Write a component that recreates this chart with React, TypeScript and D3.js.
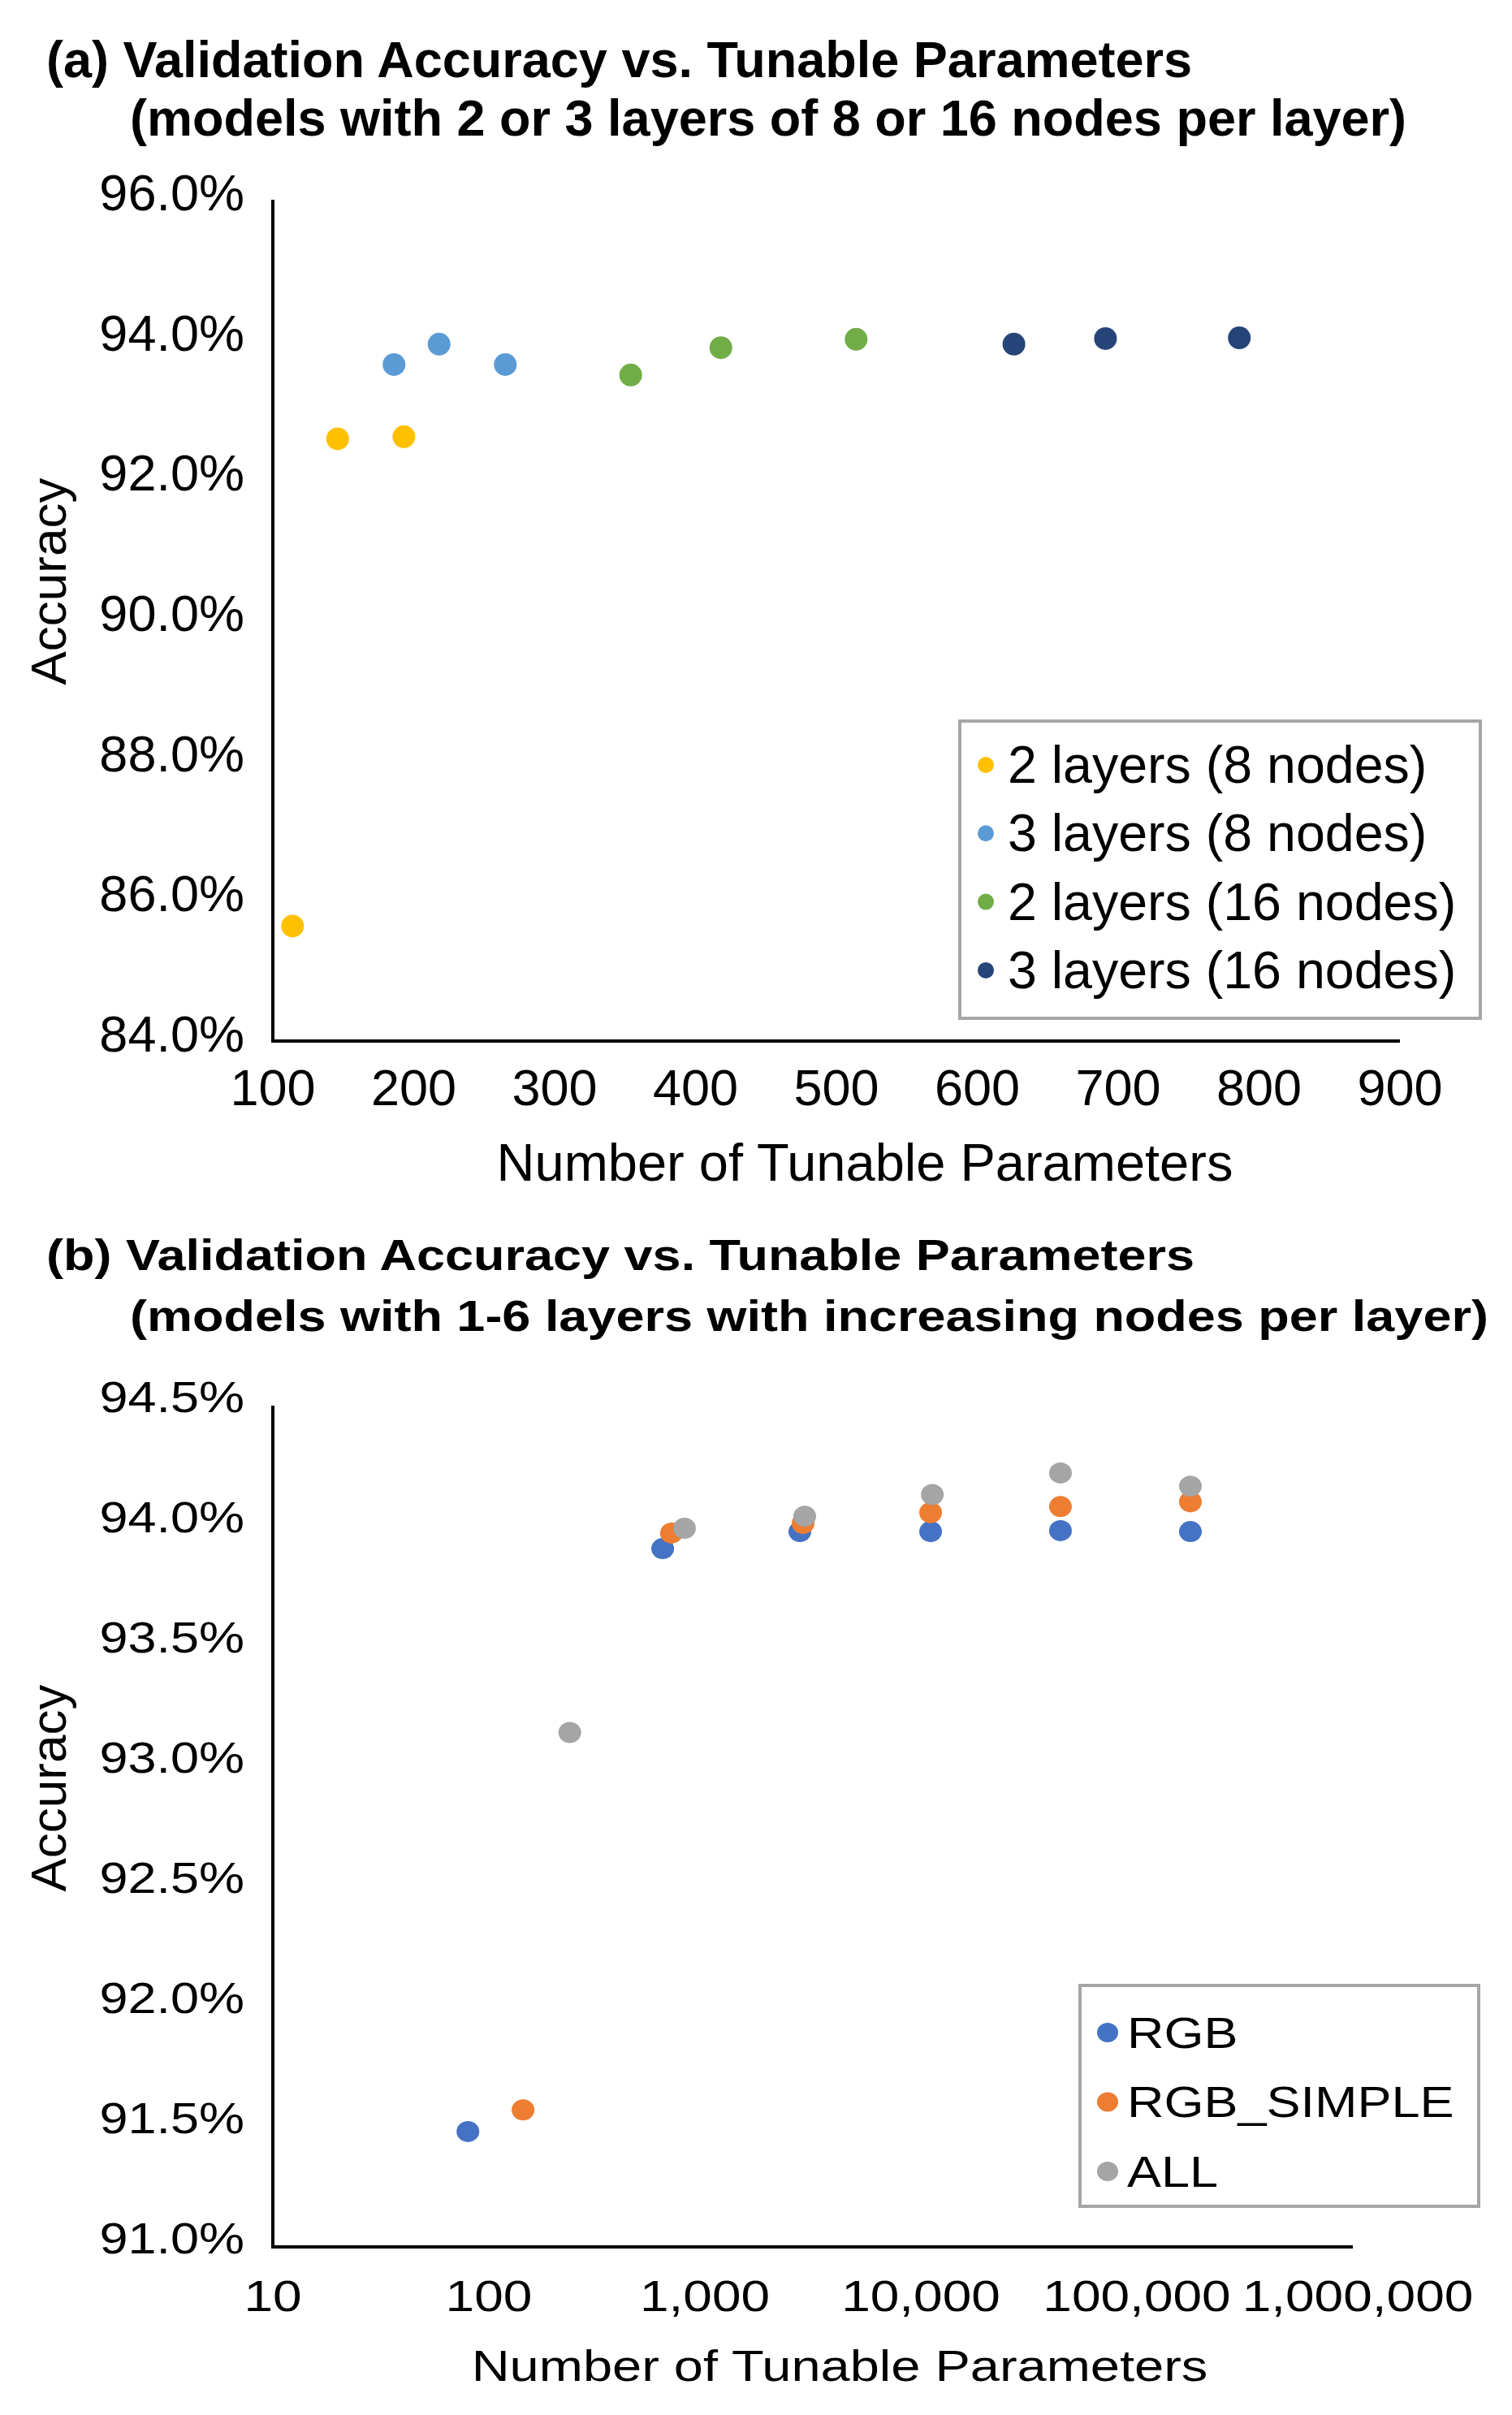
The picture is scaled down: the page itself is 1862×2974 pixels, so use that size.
import React from "react";
import * as d3 from "d3";

// (a) models with 2 or 3 layers of 8 or 16 nodes
const seriesA = ["2 layers (8 nodes)", "3 layers (8 nodes)", "2 layers (16 nodes)", "3 layers (16 nodes)"];
const colorsA = ["#FFC000", "#5B9BD5", "#70AD47", "#264478"];
const twoLayer8Params = [114, 146, 193];
const twoLayer8Acc = [85.64, 92.59, 92.62];
const threeLayer8Params = [186, 218, 265];
const threeLayer8Acc = [93.65, 93.94, 93.65];
const twoLayer16Params = [354, 418, 514];
const twoLayer16Acc = [93.5, 93.89, 94.01];
const threeLayer16Params = [626, 691, 786];
const threeLayer16Acc = [93.94, 94.02, 94.03];
const xTicksA = [100, 200, 300, 400, 500, 600, 700, 800, 900];
const yTicksA = [84, 86, 88, 90, 92, 94, 96];

// (b) models with 1-6 layers
const seriesB = ["RGB", "RGB_SIMPLE", "ALL"];
const colorsB = ["#4472C4", "#ED7D31", "#A5A5A5"];
const rgbParams = [80, 638, 2754, 11100, 44300, 177000];
const rgbAcc = [91.48, 93.905, 93.976, 93.976, 93.98, 93.976];
const simpleParams = [144, 701, 2850, 11100, 44300, 177000];
const simpleAcc = [91.57, 93.97, 94.01, 94.055, 94.08, 94.1];
const allParams = [237, 805, 2900, 11300, 44300, 177000];
const allAcc = [93.14, 93.99, 94.04, 94.13, 94.22, 94.165];
const xTicksB = [10, 100, 1000, 10000, 100000, 1000000];
const yTicksB = [91, 91.5, 92, 92.5, 93, 93.5, 94, 94.5];

const FONT = "'Liberation Sans', Arial, sans-serif";
const SQ = 0.84; // chart (b) text is squashed vertically

const App = () => {
    const xA = d3.scaleLinear().domain([100, 900]).range([336, 1724]);
    const yA = d3.scaleLinear().domain([84, 96]).range([1282, 246]);
    const xB = d3.scaleLog().domain([10, 1000000]).range([336, 1666]);
    const yB = d3.scaleLinear().domain([91, 94.5]).range([2767, 1731]);
    const fmtPct = d3.format(".1f");
    const fmtComma = d3.format(",");

    const dataA = [
        [twoLayer8Params, twoLayer8Acc],
        [threeLayer8Params, threeLayer8Acc],
        [twoLayer16Params, twoLayer16Acc],
        [threeLayer16Params, threeLayer16Acc],
    ];
    const dataB = [
        [rgbParams, rgbAcc],
        [simpleParams, simpleAcc],
        [allParams, allAcc],
    ];

    const sq = (x, y, children, anchor = "start", size = 63, weight = "normal") => (
        <g transform={`translate(${x},${y}) scale(1,${SQ})`}>
            <text textAnchor={anchor} fontSize={size} fontWeight={weight} dominantBaseline="central">{children}</text>
        </g>
    );

    return (
        <svg width={1862} height={2974} style={{position: "absolute", left: 0, top: 0, background: "#fff"}}
             fontFamily={FONT} fill="#000">
            <rect width={1862} height={2974} fill="#fff"/>

            {/* ---------- chart (a) ---------- */}
            <text x={57} y={95} fontSize={63} fontWeight="bold">(a) Validation Accuracy vs. Tunable Parameters</text>
            <text x={160} y={167} fontSize={63} fontWeight="bold">(models with 2 or 3 layers of 8 or 16 nodes per layer)</text>

            {yTicksA.map(v => (
                <text key={v} x={301} y={yA(v) - 9} textAnchor="end" dominantBaseline="central" fontSize={63}>
                    {fmtPct(v)}%
                </text>
            ))}
            {xTicksA.map(v => (
                <text key={v} x={xA(v)} y={1339} textAnchor="middle" dominantBaseline="central" fontSize={63}>{v}</text>
            ))}
            <line x1={xA(100)} x2={xA(100)} y1={yA(96)} y2={yA(84)} stroke="#000" strokeWidth={4}/>
            <line x1={xA(100) - 2} x2={xA(900)} y1={yA(84)} y2={yA(84)} stroke="#000" strokeWidth={4}/>
            <text transform={`translate(59,716) rotate(-90)`} textAnchor="middle" dominantBaseline="central" fontSize={62}>Accuracy</text>
            <text x={1065} y={1431} textAnchor="middle" dominantBaseline="central" fontSize={65}>Number of Tunable Parameters</text>

            {dataA.map(([xs, ys], s) => (
                <g key={s} fill={colorsA[s]}>
                    {xs.map((x, i) => <circle key={i} cx={xA(x)} cy={yA(ys[i])} r={14}/>)}
                </g>
            ))}

            <rect x={1182} y={888} width={641} height={366} fill="#fff" stroke="#A6A6A6" strokeWidth={4}/>
            {seriesA.map((name, i) => (
                <g key={name} transform={`translate(0,${942 + i * 84.3})`}>
                    <circle cx={1214} cy={0} r={10} fill={colorsA[i]}/>
                    <text x={1241} y={0} dominantBaseline="central" fontSize={64.5}>{name}</text>
                </g>
            ))}

            {/* ---------- chart (b) ---------- */}
            {sq(57, 1545, "(b) Validation Accuracy vs. Tunable Parameters", "start", 63, "bold")}
            {sq(160, 1620, "(models with 1-6 layers with increasing nodes per layer)", "start", 63, "bold")}

            {yTicksB.map(v => (
                <g key={v}>{sq(301, yB(v) - 11, `${fmtPct(v)}%`, "end")}</g>
            ))}
            {xTicksB.map(v => (
                <g key={v}>{sq(xB(v) + (v === 1000000 ? 6 : 0), 2827, fmtComma(v), "middle", 64)}</g>
            ))}
            <line x1={xB(10)} x2={xB(10)} y1={yB(94.5)} y2={yB(91)} stroke="#000" strokeWidth={4}/>
            <line x1={xB(10) - 2} x2={xB(1000000)} y1={yB(91)} y2={yB(91)} stroke="#000" strokeWidth={4}/>
            <text transform={`translate(59,2202) rotate(-90)`} textAnchor="middle" dominantBaseline="central" fontSize={62}>Accuracy</text>
            {sq(1034, 2913, "Number of Tunable Parameters", "middle", 65)}

            {dataB.map(([xs, ys], s) => (
                <g key={s} fill={colorsB[s]}>
                    {xs.map((x, i) => <ellipse key={i} cx={xB(x)} cy={yB(ys[i])} rx={14} ry={13}/>)}
                </g>
            ))}

            <rect x={1330} y={2445} width={491} height={272} fill="#fff" stroke="#A6A6A6" strokeWidth={4}/>
            {seriesB.map((name, i) => (
                <g key={name}>
                    <ellipse cx={1364} cy={2503 + i * 85.5} rx={13} ry={12} fill={colorsB[i]}/>
                    {sq(1388, 2503 + i * 85.5, name, "start", 63)}
                </g>
            ))}
        </svg>
    );
};

export default App;
